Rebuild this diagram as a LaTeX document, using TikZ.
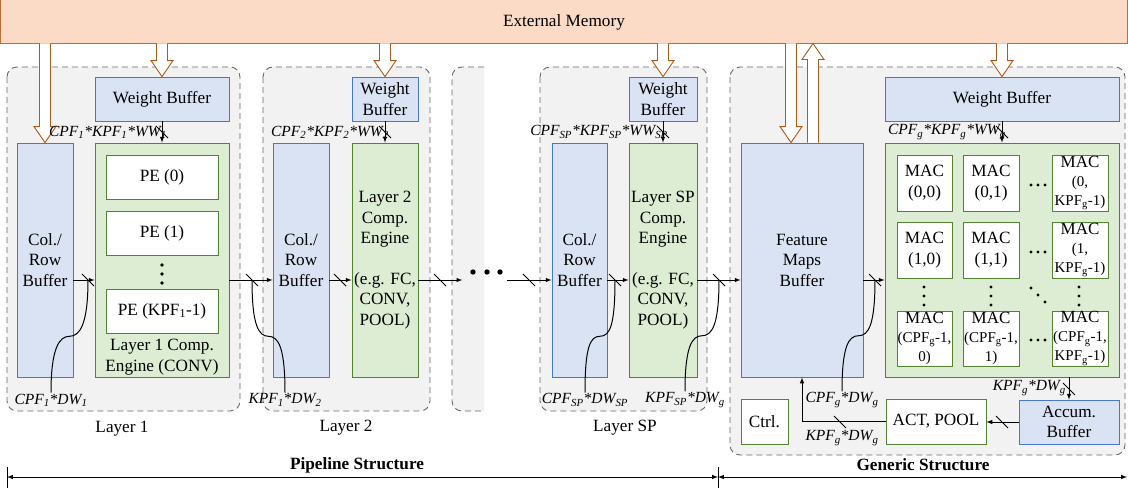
\documentclass[tikz,border=0pt]{standalone}
\usepackage{fontspec}
\setmainfont{Liberation Serif}
\usetikzlibrary{calc}

\definecolor{memfill}{RGB}{252,219,198}
\definecolor{memline}{RGB}{190,108,60}
\definecolor{arrline}{RGB}{175,88,26}
\definecolor{buffill}{RGB}{218,227,243}
\definecolor{bufline}{RGB}{72,118,200}
\definecolor{engfill}{RGB}{221,237,212}
\definecolor{engline}{RGB}{84,130,53}
\definecolor{layfill}{RGB}{242,242,242}
\definecolor{layline}{RGB}{105,105,105}

\tikzset{
  buf/.style={draw=bufline, fill=buffill, line width=0.9pt, inner sep=0pt},
  eng/.style={draw=engline, fill=engfill, line width=0.9pt, inner sep=0pt},
  unit/.style={draw=engline, fill=white, line width=0.9pt, inner sep=0pt},
  layer/.style={draw=layline, fill=layfill, dash pattern=on 6pt off 4pt, line width=0.9pt, rounded corners=10pt},
  hollow/.style={draw=arrline, fill=white, line width=0.9pt},
  conn/.style={-latex, line width=1pt},
  bus/.style={line width=1pt},
  lbl/.style={font=\fontsize{15.5}{18}\selectfont\itshape, inner sep=1pt},
  macsmall/.style={font=\fontsize{15}{19}\selectfont},
}

% hollow arrows to and from the external memory
\newcommand{\memdown}[2]{%
  \draw[hollow] ($(#1)+(-5.5,0)$) -- ($(#2)+(-5.5,-16)$) -- ($(#2)+(-11,-16)$) -- (#2)
    -- ($(#2)+(11,-16)$) -- ($(#2)+(5.5,-16)$) -- ($(#1)+(5.5,0)$);}
\newcommand{\memup}[2]{%
  \draw[hollow] ($(#1)+(-5.5,0)$) -- ($(#2)+(-5.5,16)$) -- ($(#2)+(-11,16)$) -- (#2)
    -- ($(#2)+(11,16)$) -- ($(#2)+(5.5,16)$) -- ($(#1)+(5.5,0)$);}

\begin{document}
\begin{tikzpicture}[x=1pt, y=-1pt,
    every node/.style={font=\fontsize{17.2}{20.5}\selectfont, align=center}]
  \useasboundingbox (0,0) rectangle (1128,490);

  % layer frames
  \draw[layer] (7,67) rectangle (240,411);
  \draw[layer] (263,67) rectangle (430,411);
  \draw[layer] (484,67) -- (452,67) -- (452,411) -- (484,411);
  \draw[layer] (540,67) rectangle (707,411);
  \draw[layer] (730,67) rectangle (1125,455);

  \node[draw=memline, fill=memfill, line width=0.9pt, inner sep=0pt, text height=15.5pt, text depth=3pt,
        minimum width=1127pt, minimum height=45pt] (mem) at (564,20.5) {External Memory};

  % layer 1
  \node[buf, minimum width=134pt, minimum height=44pt] (wb1) at (162,99) {Weight Buffer};
  \node[buf, minimum width=56pt, minimum height=234pt] (crb1) at (45,260) {Col./\\Row\\Buffer};
  \node[eng, minimum width=134pt, minimum height=234pt] (ce1) at (162,260) {};
  \foreach \n/\y/\t in {pe0/177/PE (0), pe1/233/PE (1), pe2/311/PE (KPF\textsubscript{1}-1)} {
    \node[unit, minimum width=112pt, minimum height=44pt] (\n) at (162,\y) {\t};
  }
  \foreach \y in {265,274,283} \fill (162,\y) circle (1.8);
  \node (ce1t) at (162,357) {Layer 1 Comp.\\Engine (CONV)};
  \node (l1) at (122,429) {Layer 1};

  % layer 2
  \node[buf, minimum width=66pt, minimum height=44pt] (wb2) at (385,99) {Weight\\Buffer};
  \node[buf, minimum width=56pt, minimum height=234pt] (crb2) at (301,260) {Col./\\Row\\Buffer};
  \node[eng, minimum width=66pt, minimum height=234pt] (ce2) at (385,260)
    {Layer 2\\Comp.\\Engine\\[20pt](e.g. FC,\\CONV,\\POOL)};
  \node (l2) at (346,428) {Layer 2};

  \node[minimum width=44pt, minimum height=10pt, inner sep=0pt] (gap) at (484.5,276) {};
  \foreach \x in {473,487,500} \fill (\x,272) circle (2.7);

  % layer SP
  \node[buf, minimum width=68pt, minimum height=44pt] (wbsp) at (663,99) {Weight\\Buffer};
  \node[buf, minimum width=55pt, minimum height=234pt] (crbsp) at (579.5,260) {Col./\\Row\\Buffer};
  \node[eng, minimum width=68pt, minimum height=234pt] (cesp) at (663,260)
    {Layer SP\\Comp.\\Engine\\[20pt](e.g. FC,\\CONV,\\POOL)};
  \node (lsp) at (625,428) {Layer SP};

  % generic part
  \node[buf, minimum width=122pt, minimum height=234pt] (fmb) at (802,260) {Feature\\Maps\\Buffer};
  \node[buf, minimum width=234pt, minimum height=44pt] (wbg) at (1002,99) {Weight Buffer};
  \node[eng, minimum width=234pt, minimum height=234pt] (mac) at (1002,260) {};
  \node[unit, minimum width=55pt, minimum height=56pt] (m00) at (924.5,183) {MAC\\(0,0)};
  \node[unit, minimum width=56pt, minimum height=56pt] (m01) at (991,183) {MAC\\(0,1)};
  \node[unit, macsmall, minimum width=56pt, minimum height=56pt] (m02) at (1080,183)
    {{\fontsize{17}{19}\selectfont MAC}\\(0,\\KPF\textsubscript{g}-1)};
  \node[unit, minimum width=55pt, minimum height=56pt] (m10) at (924.5,250) {MAC\\(1,0)};
  \node[unit, minimum width=56pt, minimum height=56pt] (m11) at (991,250) {MAC\\(1,1)};
  \node[unit, macsmall, minimum width=56pt, minimum height=56pt] (m12) at (1080,250)
    {{\fontsize{17}{19}\selectfont MAC}\\(1,\\KPF\textsubscript{g}-1)};
  \node[unit, macsmall, minimum width=55pt, minimum height=55pt] (m20) at (924.5,338.5)
    {{\fontsize{17}{19}\selectfont MAC}\\(CPF\textsubscript{g}-1,\\0)};
  \node[unit, macsmall, minimum width=56pt, minimum height=55pt] (m21) at (991,338.5)
    {{\fontsize{17}{19}\selectfont MAC}\\(CPF\textsubscript{g}-1,\\1)};
  \node[unit, macsmall, minimum width=56pt, minimum height=55pt] (m22) at (1080,338.5)
    {{\fontsize{17}{19}\selectfont MAC}\\(CPF\textsubscript{g}-1,\\KPF\textsubscript{g}-1)};
  \foreach \y in {185,252,340}
    \foreach \x in {1031,1038,1045} \fill (\x,\y) circle (1.7);
  \foreach \x in {924,991,1079}
    \foreach \y in {287,296,305} \fill (\x,\y) circle (1.7);
  \foreach \x/\y in {1031/288,1038/295,1045/302} \fill (\x,\y) circle (1.7);

  \node[unit, minimum width=47pt, minimum height=45pt] (ctrl) at (764.5,421.5) {Ctrl.};
  \node[unit, minimum width=100pt, minimum height=45pt] (act) at (936,421.5) {ACT, POOL};
  \node[buf, minimum width=100pt, minimum height=44pt] (acc) at (1069,422) {Accum.\\Buffer};

  % hollow memory arrows
  \memdown{mem.south -| crb1.north}{crb1.north}
  \memdown{mem.south -| wb1.north}{wb1.north}
  \memdown{mem.south -| wb2.north}{wb2.north}
  \memdown{mem.south -| wbsp.north}{wbsp.north}
  \memdown{mem.south -| wbg.north}{wbg.north}
  \coordinate (fin) at ($(fmb.north)+(-11,0)$);
  \coordinate (fout) at ($(fmb.north)+(11,0)$);
  \memdown{mem.south -| fin}{fin}
  \memup{fout}{mem.south -| fout}

  % data paths
  \coordinate (bus) at (0,280);
  \draw[conn] (crb1.east |- bus) -- (ce1.west |- bus);
  \draw[conn] (ce1.east |- bus) -- (crb2.west |- bus);
  \draw[conn] (crb2.east |- bus) -- (ce2.west |- bus);
  \draw[conn] (ce2.east |- bus) -- (gap.west |- bus);
  \draw[conn] (gap.east |- bus) -- (crbsp.west |- bus);
  \draw[conn] (crbsp.east |- bus) -- (cesp.west |- bus);
  \draw[conn] (cesp.east |- bus) -- (fmb.west |- bus);
  \draw[conn] (fmb.east |- bus) -- (mac.west |- bus);
  \draw[conn] (wb1) -- (ce1);
  \draw[conn] (wb2) -- (ce2);
  \draw[conn] (wbsp) -- (cesp);
  \draw[conn] (wbg) -- (mac);
  \draw[conn] (mac.south -| acc.north) -- (acc.north);
  \draw[conn] (acc.west) -- (act.east |- acc.west);
  \draw[conn] (act.west) -| (fmb.south);

  % bus widths
  \coordinate (s1) at (88,280);
  \coordinate (s2) at (252,280);
  \coordinate (s3) at (340,280);
  \coordinate (s4) at (440,280);
  \coordinate (s5) at (529,280);
  \coordinate (s6) at (615,280);
  \coordinate (s7) at (719,280);
  \coordinate (s8) at (875,280);
  \coordinate (t1) at (162,132);
  \coordinate (t2) at (385,132);
  \coordinate (t3) at (663,132);
  \coordinate (t4) at (1002,132);
  \coordinate (t5) at (1069,389);
  \coordinate (t6) at (1002,422);
  \coordinate (t7) at (840,422);
  \foreach \s in {s1,s2,s3,s4,s5,s6,s7,s8,t1,t2,t3,t4,t5,t6,t7}
    \draw[bus] (\s) +(-6,-6) -- +(6,6);

  \node[lbl, anchor=east] (w1) at (168,132) {CPF\textsubscript{1}*KPF\textsubscript{1}*WW\textsubscript{1}};
  \node[lbl, anchor=east] (w2) at (390,132) {CPF\textsubscript{2}*KPF\textsubscript{2}*WW\textsubscript{2}};
  \node[lbl, anchor=east] (w3) at (669,132) {CPF\textsubscript{SP}*KPF\textsubscript{SP}*WW\textsubscript{SP}};
  \node[lbl, anchor=east] (w4) at (1007,132) {CPF\textsubscript{g}*KPF\textsubscript{g}*WW\textsubscript{g}};
  \node[lbl] (d1) at (51,400) {CPF\textsubscript{1}*DW\textsubscript{1}};
  \node[lbl] (d2) at (285,400) {KPF\textsubscript{1}*DW\textsubscript{2}};
  \node[lbl] (d3) at (585,400) {CPF\textsubscript{SP}*DW\textsubscript{SP}};
  \node[lbl] (d4) at (685,400) {KPF\textsubscript{SP}*DW\textsubscript{g}};
  \node[lbl] (d5) at (842,400) {CPF\textsubscript{g}*DW\textsubscript{g}};
  \node[lbl] (d6) at (842,438) {KPF\textsubscript{g}*DW\textsubscript{g}};
  \node[lbl, anchor=east] (d7) at (1067,388) {KPF\textsubscript{g}*DW\textsubscript{g}};

  \draw[bus] (d1.north) .. controls +(0,-45) and +(-10,0) .. ($(d1.north)!0.5!(s1)$)
    .. controls +(10,0) and +(0,45) .. (s1);
  \draw[bus] (d2.north) .. controls +(0,-45) and +(10,0) .. ($(d2.north)!0.5!(s2)$)
    .. controls +(-10,0) and +(0,45) .. (s2);
  \draw[bus] (d3.north) .. controls +(0,-45) and +(-10,0) .. ($(d3.north)!0.5!(s6)$)
    .. controls +(10,0) and +(0,45) .. (s6);
  \draw[bus] (d4.north) .. controls +(0,-45) and +(-10,0) .. ($(d4.north)!0.5!(s7)$)
    .. controls +(10,0) and +(0,45) .. (s7);
  \draw[bus] (d5.north) .. controls +(0,-45) and +(-10,0) .. ($(d5.north)!0.5!(s8)$)
    .. controls +(10,0) and +(0,45) .. (s8);

  % structure bar
  \coordinate (pl) at (7,477);
  \coordinate (pm) at (718,477);
  \coordinate (pr) at (1127,477);
  \draw[latex-latex, line width=1pt] (pl) -- (pm);
  \draw[latex-latex, line width=1pt] (pm) -- (pr);
  \foreach \c in {pl,pm} \draw[bus] (\c) +(0,-10) -- +(0,11);
  \node[font=\fontsize{17.2}{20}\selectfont\bfseries] (pipe) at (357,465) {Pipeline Structure};
  \node[font=\fontsize{17.2}{20}\selectfont\bfseries] (gen) at (923,465) {Generic Structure};
\end{tikzpicture}
\end{document}
